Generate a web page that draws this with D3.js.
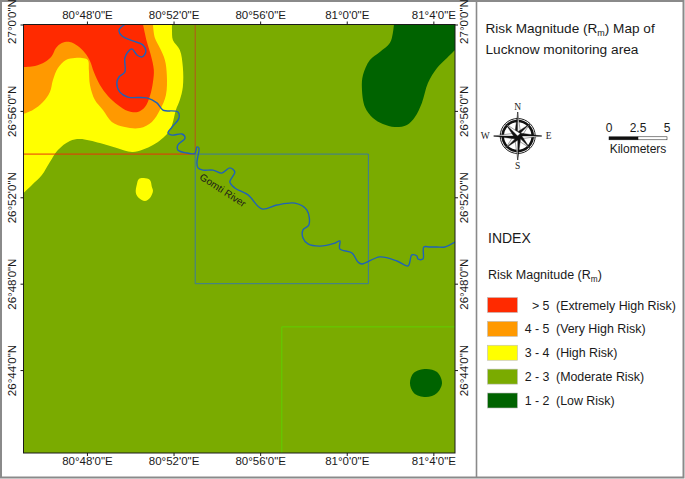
<!DOCTYPE html>
<html>
<head>
<meta charset="utf-8">
<script src="https://cdnjs.cloudflare.com/ajax/libs/d3/7.8.5/d3.min.js"></script>
<style>
html,body{margin:0;padding:0;background:#fff}
svg{display:block}
text{font-family:"Liberation Sans",Arial,sans-serif;fill:#1a1a1a}
</style>
</head>
<body>
<svg id="c" width="685" height="479"></svg>
<script>
// All map coordinates: [arc-minutes of longitude past 80°, arc-minutes of latitude past 26°]
const lonExtent = [45.07, 65.0];
const latExtent = [60, 40.16];

const lonTicks = [48, 52, 56, 60, 64];
const lonLabels = ["80°48'0\"E", "80°52'0\"E", "80°56'0\"E", "81°0'0\"E", "81°4'0\"E"];
const latTicks = [60, 56, 52, 48, 44];
const latLabels = ["27°0'0\"N", "26°56'0\"N", "26°52'0\"N", "26°48'0\"N", "26°44'0\"N"];

const yellowEdge = [[45.07,52.20],[45.46,52.57],[45.92,53.03],[46.29,53.63],[46.66,54.19],[47.21,54.61],[47.68,54.70],[48.60,54.51],[49.38,54.28],[50.12,54.10],[51.05,54.42],[51.74,54.98],[51.93,55.35],[52.11,56.04],[52.29,56.50],[52.43,57.11],[52.43,58.03],[52.29,58.82],[51.97,59.28],[51.93,59.74],[51.93,60]];
const orangeEdge = [[45.07,55.86],[45.50,56.04],[45.97,56.41],[46.29,56.87],[46.43,57.43],[46.66,57.99],[47.03,58.36],[47.44,58.45],[47.77,58.45],[48.04,58.36],[48.09,57.89],[48.14,57.20],[48.37,56.50],[48.74,56.04],[49.15,55.49],[49.75,55.25],[50.45,55.21],[51.00,55.49],[51.37,56.04],[51.65,56.74],[51.69,57.66],[51.60,58.36],[51.37,58.91],[51.14,59.37],[51.05,60]];
const redEdge = [[45.07,58.03],[45.60,58.08],[46.06,58.26],[46.38,58.54],[46.57,58.91],[46.84,59.14],[47.21,59.19],[47.58,59.00],[47.91,58.68],[48.14,58.31],[48.32,57.80],[48.60,57.20],[48.97,56.69],[49.43,56.27],[49.89,55.99],[50.35,55.95],[50.68,56.18],[50.91,56.69],[51.05,57.34],[51.09,57.89],[50.95,58.59],[50.77,59.19],[50.59,60]];
const lowEdge = [[62.18,60],[62.13,59.61],[61.99,59.14],[61.53,58.73],[61.07,58.36],[60.75,57.66],[60.70,57.06],[60.84,56.18],[61.21,55.67],[61.67,55.39],[62.22,55.25],[62.78,55.35],[63.15,55.72],[63.47,56.37],[63.75,57.29],[64.17,57.99],[64.63,58.45],[65.00,58.82]];
const yellowBlob = [[50.63,52.89],[50.91,52.80],[51.00,52.48],[51.05,52.29],[50.91,51.97],[50.68,51.83],[50.40,51.97],[50.26,52.20],[50.31,52.62],[50.40,52.85]];
const lowBlob = [[63.66,44.05],[64.17,43.91],[64.40,43.40],[64.17,42.94],[63.66,42.75],[63.10,42.94],[62.92,43.40],[63.10,43.87]];
const river = [[49.75,60],[49.48,59.74],[49.62,59.47],[50.12,59.24],[50.59,59.05],[50.72,58.73],[50.54,58.50],[50.31,58.59],[50.08,58.87],[49.89,58.73],[49.75,58.45],[49.75,57.80],[49.48,57.57],[49.38,57.29],[49.52,56.87],[49.89,56.64],[50.77,56.60],[51.23,56.37],[51.51,56.04],[52.20,55.95],[52.25,55.67],[51.93,55.25],[51.74,54.98],[51.93,54.88],[52.39,54.93],[52.53,54.74],[52.20,54.42],[52.20,54.19],[52.62,54.05],[52.99,54.03],[53.08,54.33],[53.17,54.28],[53.08,53.59],[53.13,53.36],[53.36,53.26],[53.82,53.26],[54.23,53.12],[54.60,53.36],[54.83,53.17],[54.60,52.71],[54.83,52.43],[55.44,52.11],[56.08,51.46],[56.77,51.64],[57.61,51.73],[58.16,51.41],[58.25,50.72],[57.98,50.49],[57.98,50.11],[58.21,49.84],[58.76,49.74],[59.45,49.88],[59.68,49.98],[59.68,49.61],[60.24,49.42],[60.52,49.00],[60.70,48.91],[61.53,49.24],[62.32,49.05],[62.83,48.82],[63.01,49.33],[63.24,49.28],[63.29,49.14],[63.52,49.14],[63.56,49.70],[63.84,49.70],[64.17,49.70],[64.53,49.70],[65.00,49.93]];
const redLine = [[45.07,54],[53,54],[53,60]];
const blueBox = [[53,54],[61,54],[61,48],[53,48],[53,54]];
const greenLine = [[57,40.16],[57,46],[65,46]];

const legendRanges = ["> 5", "4 - 5", "3 - 4", "2 - 3", "1 - 2"];
const legendNames = ["(Extremely High Risk)", "(Very High Risk)", "(High Risk)", "(Moderate Risk)", "(Low Risk)"];
const legendColors = ["#ff2a00", "#ff9900", "#ffff00", "#7aab00", "#006300"];
const scaleKm = [0, 2.5, 5];
const compassLabels = ["N", "E", "S", "W"];

const svg = d3.select("#c");
const L = 23.5, R = 455, T = 24.5, B = 453;
const x = d3.scaleLinear().domain(lonExtent).range([L, R]);
const y = d3.scaleLinear().domain(latExtent).range([T, B]);

// outer frame and divider
svg.append("rect").attr("x",1).attr("y",1).attr("width",682.5).attr("height",476.5)
  .attr("fill","#fff").attr("stroke","#8a8a8a").attr("stroke-width",2);
svg.append("line").attr("x1",476.5).attr("x2",476.5).attr("y1",1).attr("y2",478)
  .attr("stroke","#8a8a8a").attr("stroke-width",1.6);

// map
const clipId = "mapclip";
svg.append("clipPath").attr("id",clipId).append("rect")
  .attr("x",L).attr("y",T).attr("width",R-L).attr("height",B-T);
const map = svg.append("g").attr("clip-path",`url(#${clipId})`);
map.append("rect").attr("x",L).attr("y",T).attr("width",R-L).attr("height",B-T).attr("fill",legendColors[3]);

const curve = d3.line().x(d=>x(d[0])).y(d=>y(d[1])).curve(d3.curveCatmullRom.alpha(0.5));
const closed = d3.line().x(d=>x(d[0])).y(d=>y(d[1])).curve(d3.curveCatmullRomClosed.alpha(0.5));
const straight = d3.line().x(d=>x(d[0])).y(d=>y(d[1]));
const corner = (lon,lat)=>`L${x(lon)},${y(lat)}`;

const topLeft = corner(lonExtent[0],latExtent[0]);
const topRight = corner(lonExtent[1],latExtent[0]);
map.append("path").attr("d",curve(yellowEdge)+topLeft+"Z").attr("fill",legendColors[2]);
map.append("path").attr("d",curve(orangeEdge)+topLeft+"Z").attr("fill",legendColors[1]);
map.append("path").attr("d",curve(redEdge)+topLeft+"Z").attr("fill",legendColors[0]);
map.append("path").attr("d",curve(lowEdge)+topRight+"Z").attr("fill",legendColors[4]);
map.append("path").attr("d",closed(yellowBlob)).attr("fill",legendColors[2]);
map.append("path").attr("d",closed(lowBlob)).attr("fill",legendColors[4]);

map.append("path").attr("d",straight(greenLine)).attr("fill","none").attr("stroke","#5fd000").attr("stroke-width",1);
map.append("path").attr("d",straight(blueBox)).attr("fill","none").attr("stroke","#3c7a9c").attr("stroke-width",1);
map.append("path").attr("d",straight(redLine.slice(0,2))).attr("fill","none").attr("stroke","#e8320a").attr("stroke-width",1);
map.append("path").attr("d",straight(redLine.slice(1))).attr("fill","none").attr("stroke","#b5541a").attr("stroke-width",1);
map.append("path").attr("d",curve(river)).attr("fill","none").attr("stroke","#1f62b8").attr("stroke-width",1.4).attr("stroke-linejoin","round");

map.append("text").attr("transform",`translate(${x(53.17)},${y(52.86)}) rotate(33)`)
  .attr("font-size",10).attr("fill","#1a1a1a").text("Gomti River");

// frame and graticule ticks
svg.append("rect").attr("x",L).attr("y",T).attr("width",R-L).attr("height",B-T)
  .attr("fill","none").attr("stroke","#1a1a1a").attr("stroke-width",1);

function styleAxis(g){
  g.selectAll(".domain").remove();
  g.selectAll("line").attr("stroke","#1a1a1a");
  g.selectAll("text").attr("font-size",11.5).attr("fill","#2a2a2a").style("font-family",'"Liberation Sans",Arial,sans-serif');
}
const lonFmt = d=>lonLabels[lonTicks.indexOf(d)];
const latFmt = d=>latLabels[latTicks.indexOf(d)];
svg.append("g").attr("transform",`translate(0,${T})`)
  .call(d3.axisTop(x).tickValues(lonTicks).tickFormat(lonFmt).tickSize(3).tickPadding(3)).call(styleAxis);
svg.append("g").attr("transform",`translate(0,${B})`)
  .call(d3.axisBottom(x).tickValues(lonTicks).tickFormat(lonFmt).tickSize(3).tickPadding(1)).call(styleAxis);

function rotLat(g, tx){
  g.selectAll("text").each(function(d){
    const shift = d===60 ? -3.5 : 0;
    d3.select(this).attr("x",null).attr("dy",null)
      .attr("text-anchor","middle")
      .attr("dominant-baseline","middle")
      .attr("transform",`translate(${tx},${shift}) rotate(-90)`);
  });
}
svg.append("g").attr("transform",`translate(${L},0)`)
  .call(d3.axisLeft(y).tickValues(latTicks).tickFormat(latFmt).tickSize(3)).call(styleAxis).call(rotLat,-11);
svg.append("g").attr("transform",`translate(${R},0)`)
  .call(d3.axisRight(y).tickValues(latTicks).tickFormat(latFmt).tickSize(3)).call(styleAxis).call(rotLat,10);

// title
function withSub(sel, pre, sub, post, fs){
  sel.append("tspan").text(pre);
  sel.append("tspan").attr("dy",2.5).attr("font-size",fs*0.66).text(sub);
  sel.append("tspan").attr("dy",-2.5).text(post);
}
svg.append("text").attr("x",485.5).attr("y",33).attr("font-size",13.6)
  .call(withSub,"Risk Magnitude (R","m",") Map of",13.6);
svg.append("text").attr("x",485.5).attr("y",54).attr("font-size",13.7).text("Lucknow monitoring area");

// compass
const cx = 517.7, cy = 136;
const comp = svg.append("g").attr("transform",`translate(${cx},${cy})`);
comp.append("circle").attr("r",17.5).attr("fill","none").attr("stroke","#222").attr("stroke-width",1);
comp.append("circle").attr("r",15).attr("fill","none").attr("stroke","#111").attr("stroke-width",2.6);
const spike = (ang,len,w,side,fill)=>{
  const a = ang*Math.PI/180;
  const tip = [len*Math.sin(a), -len*Math.cos(a)];
  const b = a + side*Math.PI/2;
  const base = [w*Math.sin(b), -w*Math.cos(b)];
  comp.append("path").attr("d",`M0,0L${tip}L${base}Z`).attr("fill",fill).attr("stroke","#111").attr("stroke-width",0.4);
};
d3.range(0,360,45).forEach(a=>{
  const main = a%90===0;
  const len = main ? 24 : 17;
  const w = main ? 3.2 : 3.6;
  spike(a,len,w,-1,"#111");
  spike(a,len,w,1,"#fff");
});
[[0,-24],[24,0],[0,24],[-24,0]].forEach((p,i)=>{
  const off = [[0,-2.5],[4,3],[0,9],[-4,3]][i];
  comp.append("text").attr("x",p[0]+off[0]).attr("y",p[1]+off[1])
    .attr("text-anchor",["middle","start","middle","end"][i])
    .style("font-family",'"Liberation Serif",serif').attr("font-size",9.5).text(compassLabels[i]);
});

// scale bar
const km = d3.scaleLinear().domain([0,5]).range([609,667]);
svg.append("rect").attr("x",km(0)).attr("y",136.8).attr("width",km(2.5)-km(0)).attr("height",3).attr("fill","#111").attr("stroke","#111").attr("stroke-width",0.5);
svg.append("rect").attr("x",km(2.5)).attr("y",136.8).attr("width",km(5)-km(2.5)).attr("height",3).attr("fill","#fff").attr("stroke","#111").attr("stroke-width",0.5);
svg.selectAll(".km").data(scaleKm).join("text").attr("x",d=>km(d)).attr("y",131.5).attr("text-anchor","middle").attr("font-size",12).text(d=>d);
svg.append("text").attr("x",km(2.5)).attr("y",153).attr("text-anchor","middle").attr("font-size",12).text("Kilometers");

// legend
svg.append("text").attr("x",488).attr("y",243).attr("font-size",14).text("INDEX");
svg.append("text").attr("x",488).attr("y",279).attr("font-size",12.5).call(withSub,"Risk Magnitude (R","m",")",12.5);
const ly = d3.scalePoint().domain(legendRanges).range([297.5,393]);
const rows = svg.selectAll(".row").data(legendRanges).join("g").attr("transform",d=>`translate(0,${ly(d)})`);
rows.append("rect").attr("x",487.5).attr("y",0).attr("width",30).attr("height",15)
  .attr("fill",(d,i)=>legendColors[i]).attr("stroke","#bdbdbd").attr("stroke-width",0.6);
rows.append("text").attr("x",549.5).attr("y",12).attr("text-anchor","end").attr("font-size",12.4).text(d=>d);
rows.append("text").attr("x",556).attr("y",12).attr("font-size",12.4).text((d,i)=>legendNames[i]);
</script>
</body>
</html>
